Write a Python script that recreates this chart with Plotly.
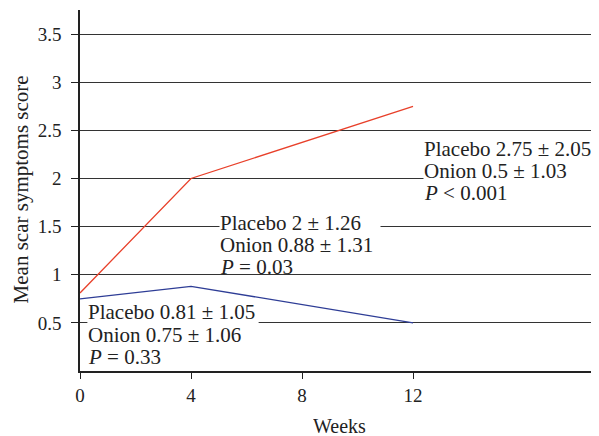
import plotly.graph_objects as go

weeks = [0, 4, 12]
placebo = [0.81, 2.0, 2.75]
onion = [0.75, 0.88, 0.5]

x_ticks = [0, 4, 8, 12]
y_ticks = [0.5, 1, 1.5, 2, 2.5, 3, 3.5]
y_tick_labels = ["0.5", "1", "1.5", "2", "2.5", "3", "3.5"]

# (x of text left, y of first line centre, lines)
notes = [
    (0.36, 0.613, ["Placebo 0.81 ± 1.05", "Onion 0.75 ± 1.06", "<i>P</i> = 0.33"]),
    (5.12, 1.545, ["Placebo 2 ± 1.26", "Onion 0.88 ± 1.31", "<i>P</i> = 0.03"]),
    (12.47, 2.316, ["Placebo 2.75 ± 2.05", "Onion 0.5 ± 1.03", "<i>P</i> &lt; 0.001"]),
]
box_widths = [170, 160, 168]

FONT = "Liberation Serif"
TXT = "#222"

fig = go.Figure()
fig.add_trace(go.Scatter(x=weeks, y=placebo, mode="lines",
                         line=dict(color="#e8402a", width=1.3), name="Placebo"))
fig.add_trace(go.Scatter(x=weeks, y=onion, mode="lines",
                         line=dict(color="#2e3d96", width=1.3), name="Onion"))

for (x, y, lines), w in zip(notes, box_widths):
    n = len(lines)
    for i, t in enumerate(lines):
        last = i == n - 1
        fig.add_annotation(x=x, y=y, xref="x", yref="y", text=t, showarrow=False,
                           xanchor="left", yanchor="middle", align="left",
                           width=w, height=(None if last else 23),
                           xshift=-3, yshift=-i * 22.5,
                           bgcolor=("rgba(0,0,0,0)" if last else "white"), borderpad=0,
                           font=dict(family=FONT, size=21, color=TXT))

fig.add_annotation(x=-0.113, y=0.504, xref="paper", yref="paper",
                   text="Mean scar symptoms score", textangle=-90, showarrow=False,
                   xanchor="center", yanchor="middle",
                   font=dict(family=FONT, size=21, color=TXT))
fig.add_annotation(x=0.50, y=-0.152, xref="paper", yref="paper",
                   text="Weeks", showarrow=False, height=20,
                   xanchor="center", yanchor="middle",
                   font=dict(family=FONT, size=20, color=TXT))

# the page body has an 8px margin, so the figure is sized/placed to compensate
fig.update_layout(
    width=591, height=428,
    margin=dict(l=72, r=0, t=2, b=65),
    plot_bgcolor="white", paper_bgcolor="white",
    showlegend=False,
    font=dict(family=FONT, size=19, color=TXT),
    xaxis=dict(range=[0, 18.7], tickvals=x_ticks, ticks="outside", ticklen=6,
               tickcolor=TXT, showline=True, linecolor=TXT, linewidth=1.5,
               showgrid=False, zeroline=False, automargin=False,
               tickfont=dict(size=19)),
    yaxis=dict(range=[0, 3.75], tickvals=y_ticks, ticktext=y_tick_labels,
               ticks="outside", ticklen=7, tickcolor=TXT, ticklabelstandoff=6,
               showline=True, linecolor=TXT, linewidth=1.5,
               showgrid=True, gridcolor="#333", gridwidth=1, zeroline=False,
               automargin=False, tickfont=dict(size=19)),
)

fig.write_html("out.html")
